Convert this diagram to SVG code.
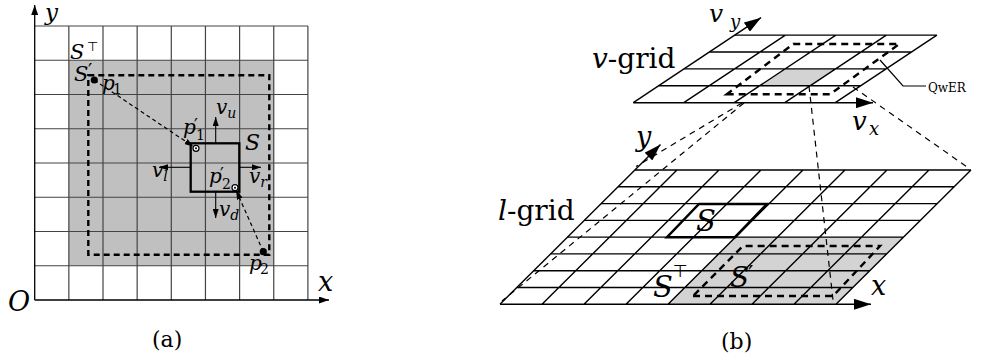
<svg xmlns="http://www.w3.org/2000/svg" width="995" height="364" viewBox="0 0 995 364">
<style>
.m{font-family:"DejaVu Serif",serif;font-style:italic;fill:#000}
.r{font-family:"DejaVu Serif",serif;font-style:normal;fill:#000}
.t{font-family:"DejaVu Sans",sans-serif;font-style:normal;fill:#000}
.ga{stroke:#444;stroke-width:1.2;fill:none}
.gb{stroke:#000;stroke-width:1.4;fill:none}
.ax{stroke:#000;stroke-width:1.3;fill:none}
.thin{stroke:#000;stroke-width:1.2;fill:none;stroke-dasharray:4 3}
.proj{stroke:#000;stroke-width:1.2;fill:none;stroke-dasharray:6 5}
.thick{stroke:#000;stroke-width:2.4;fill:none;stroke-dasharray:6 4}
.box{stroke:#000;stroke-width:2.3;fill:none;stroke-linejoin:miter}
</style>
<defs>
<marker id="aS" markerUnits="userSpaceOnUse" markerWidth="10" markerHeight="7" refX="10" refY="3.5" orient="auto"><path d="M0,0 L10,3.5 L0,7 z" fill="#000"/></marker>
<marker id="aP" markerUnits="userSpaceOnUse" markerWidth="9" markerHeight="6" refX="9" refY="3" orient="auto"><path d="M0,0 L9,3 L0,6 z" fill="#000"/></marker>
<marker id="aB" markerUnits="userSpaceOnUse" markerWidth="17" markerHeight="11" refX="17" refY="5.5" orient="auto"><path d="M0,0 L17,5.5 L0,11 z" fill="#000"/></marker>
</defs>

<g id="panel-a">
  <rect x="68.85" y="60.25" width="204.9" height="205.5" fill="#c0c0c0"/>
  <path class="ga" d="M68.85,26V300 M103,26V300 M137.15,26V300 M171.3,26V300 M205.45,26V300 M239.6,26V300 M273.75,26V300 M307.9,26V300
  M34.7,26H307.9 M34.7,60.25H307.9 M34.7,94.5H307.9 M34.7,128.75H307.9 M34.7,163H307.9 M34.7,197.25H307.9 M34.7,231.5H307.9 M34.7,265.75H307.9"/>
  <g id="axes-a">
    <line class="ax" x1="34.7" y1="300" x2="34.7" y2="5" marker-end="url(#aS)"/>
    <line class="ax" x1="34.7" y1="300" x2="329" y2="300" marker-end="url(#aS)"/>
  </g>
  <rect id="Sprime-a" class="thick" x="88.3" y="75.3" width="181" height="179.4"/>
  <rect id="S-a" class="box" x="190.7" y="143.3" width="48.6" height="48.4"/>
  <g id="vel-arrows-a">
    <line class="ax" style="stroke-width:1.1" x1="215.7" y1="143.3" x2="215.7" y2="117" marker-end="url(#aP)"/>
    <line class="ax" style="stroke-width:1.1" x1="190.7" y1="167.3" x2="159" y2="167.3" marker-end="url(#aP)"/>
    <line class="ax" style="stroke-width:1.1" x1="239.3" y1="167.3" x2="261" y2="167.3" marker-end="url(#aP)"/>
    <line class="ax" style="stroke-width:1.1" x1="215.7" y1="191.7" x2="215.7" y2="218" marker-end="url(#aP)"/>
  </g>
  <g id="points-a">
    <line class="thin" x1="94.3" y1="80" x2="193.4" y2="146.6" marker-end="url(#aP)"/>
    <line class="thin" x1="263.3" y1="251.7" x2="236.2" y2="190.5" marker-end="url(#aP)"/>
    <circle cx="94.3" cy="80" r="3.6" fill="#000"/>
    <circle cx="263.3" cy="251.7" r="3.6" fill="#000"/>
    <circle cx="196" cy="148.3" r="3" fill="#fff" stroke="#000" stroke-width="1.2"/>
    <circle cx="196" cy="148.3" r="1" fill="#000"/>
    <circle cx="235" cy="187.7" r="3" fill="#fff" stroke="#000" stroke-width="1.2"/>
    <circle cx="235" cy="187.7" r="1" fill="#000"/>
  </g>
  <g id="labels-a">
    <text class="m" x="45" y="20" font-size="23">y</text>
    <text class="m" x="318" y="291" font-size="27">x</text>
    <text class="m" x="8" y="311" font-size="27">O</text>
    <text class="m" x="70" y="59" font-size="21">S<tspan class="t" x="87" y="51" font-size="13">⊤</tspan></text>
    <text class="m" x="74" y="81" font-size="21">S<tspan class="t" x="88" y="77" font-size="19">′</tspan></text>
    <text class="m" x="102" y="90" font-size="20">p<tspan class="r" x="113" y="94" font-size="14">1</tspan></text>
    <text class="m" x="183" y="134" font-size="20">p<tspan class="t" x="194" y="131" font-size="17">′</tspan><tspan class="r" x="196" y="140" font-size="14">1</tspan></text>
    <text class="m" x="209" y="183" font-size="20">p<tspan class="t" x="220" y="180" font-size="17">′</tspan><tspan class="r" x="222" y="189" font-size="14">2</tspan></text>
    <text class="m" x="249" y="270" font-size="20">p<tspan class="r" x="260" y="274" font-size="14">2</tspan></text>
    <text class="m" x="245" y="150" font-size="22">S</text>
    <text class="m" x="216" y="114" font-size="20">v<tspan font-size="14" dy="4">u</tspan></text>
    <text class="m" x="152" y="177" font-size="20">v<tspan font-size="14" dy="4">l</tspan></text>
    <text class="m" x="249" y="183" font-size="20">v<tspan font-size="14" dy="4">r</tspan></text>
    <text class="m" x="219" y="216" font-size="20">v<tspan font-size="14" dy="4">d</tspan></text>
    <text class="r" x="152" y="347" font-size="22">(a)</text>
  </g>
</g>

<g id="panel-b">
  <g id="l-grid">
    <polygon points="668,304.3 836,304.3 903.5,237.1 735.5,237.1" fill="#d3d3d3"/>
    <path class="gb" d="M500,304.3H836 M516.9,287.5H852.9 M533.75,270.7H869.75 M550.6,253.9H886.6 M567.5,237.1H903.5 M584.4,220.35H920.4 M601.25,203.6H937.25 M618.1,186.8H954.1 M635,170H971
    M542,304.3L677,170 M584,304.3L719,170 M626,304.3L761,170 M668,304.3L803,170 M710,304.3L845,170 M752,304.3L887,170 M794,304.3L929,170 M836,304.3L971,170"/>
    <line class="gb" x1="500" y1="304.3" x2="660.5" y2="144.6" marker-end="url(#aB)"/>
    <line class="gb" x1="836" y1="304.3" x2="871" y2="304.3" marker-end="url(#aB)"/>
    <polygon class="thick" style="stroke-dasharray:7 5" points="693,296 833,296 880,246 743,246"/>
    <polygon id="S-b" class="box" style="stroke-width:2.5" points="667,237.2 735,237.2 767,204 699,204"/>
  </g>
  <g id="v-grid">
    <polygon points="759.7,85.8 810.2,85.8 835.6,68.9 785.1,68.9" fill="#d3d3d3"/>
    <path class="gb" d="M633.3,102.7H835.3 M658.7,85.8H860.7 M684.1,68.9H886.1 M709.5,52H911.5 M734.9,35.1H936.9
    M683.8,102.7L785.4,35.1 M734.3,102.7L835.9,35.1 M784.8,102.7L886.4,35.1 M835.3,102.7L936.9,35.1"/>
    <line class="gb" x1="633.3" y1="102.7" x2="761" y2="17.7" marker-end="url(#aB)"/>
    <line class="gb" x1="835.3" y1="102.7" x2="873" y2="102.7" marker-end="url(#aB)"/>
    <polygon class="thick" style="stroke-dasharray:7 5" points="726.7,94.3 830,94.3 899.3,44 793.3,44"/>
    <polyline id="qwer-leader" points="880,60 903,86 926,86" fill="none" stroke="#000" stroke-width="1.2"/>
  </g>
  <g id="connectors">
    <line class="proj" x1="742" y1="103" x2="636" y2="166.5"/>
    <line class="proj" x1="744" y1="103" x2="502" y2="301"/>
    <line class="proj" x1="809" y1="86" x2="833" y2="300"/>
    <line class="proj" x1="853" y1="87" x2="970" y2="169"/>
  </g>
  <g id="labels-b">
    <text class="m" x="709" y="22" font-size="25">v<tspan x="730" y="28" font-size="18">y</tspan></text>
    <text class="m" x="852" y="130" font-size="26">v<tspan x="869" y="135" font-size="18">x</tspan></text>
    <text class="m" x="592" y="68" font-size="28">v<tspan class="r">-grid</tspan></text>
    <text class="m" x="498" y="220" font-size="28">l<tspan class="r">-grid</tspan></text>
    <text class="m" x="636" y="146" font-size="27">y</text>
    <text class="m" x="871" y="295" font-size="27">x</text>
    <text class="m" x="696" y="231" font-size="29">S</text>
    <text class="m" x="653" y="297" font-size="29">S<tspan class="t" x="673" y="277" font-size="17">⊤</tspan></text>
    <text class="m" x="730" y="287" font-size="28">S<tspan class="t" x="748" y="283" font-size="24">′</tspan></text>
    <text class="r" x="928" y="92" font-size="12">QwER</text>
    <text class="r" x="721" y="349" font-size="22">(b)</text>
  </g>
</g>
</svg>
